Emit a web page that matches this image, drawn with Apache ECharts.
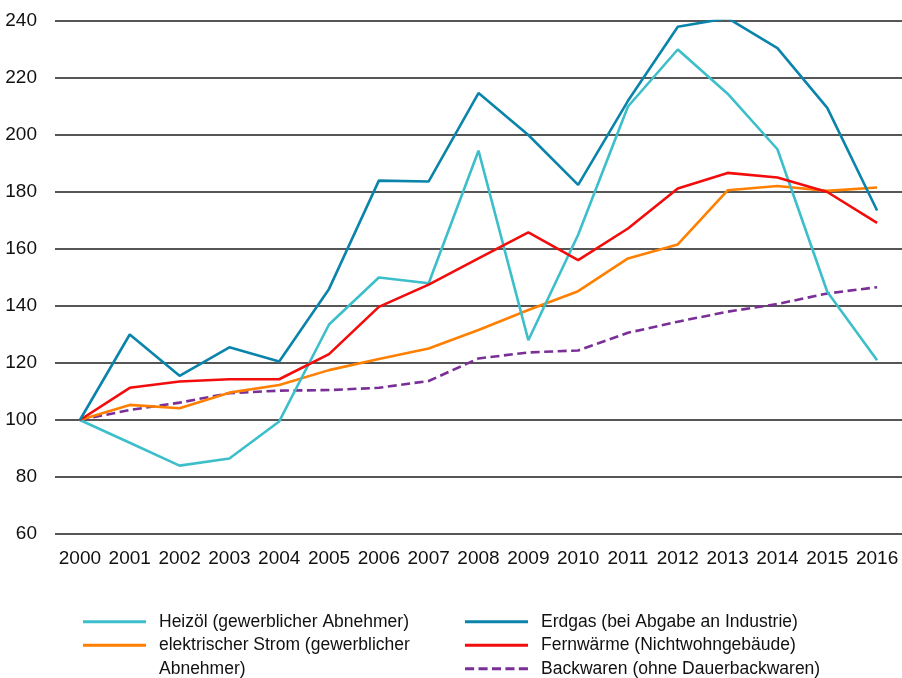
<!DOCTYPE html>
<html>
<head>
<meta charset="utf-8">
<script src="https://cdn.jsdelivr.net/npm/echarts@6/dist/echarts.min.js"></script>
<style>
    html, body { margin: 0; padding: 0; background: #fff; }
    #chart { width: 902px; height: 678px; }
</style>
</head>
<body>
<div id="chart"></div>
<script>
var years = ['2000', '2001', '2002', '2003', '2004', '2005', '2006', '2007', '2008',
    '2009', '2010', '2011', '2012', '2013', '2014', '2015', '2016'];
var yTicks = { min: 60, max: 240, step: 20 };

var heizoel = [100, 92, 84, 86.5, 99.5, 133.5, 150, 148, 194.5, 128, 165, 210, 230, 214.5, 195, 145, 121];
var erdgas = [100, 130, 115.5, 125.5, 120.5, 146, 184, 183.7, 214.7, 200, 182.5, 212, 238, 241, 230.5, 209.5, 173.5];
var strom = [100, 105.3, 104.1, 109.6, 112.3, 117.5, 121.4, 125.1, 131.6, 138.6, 145.2, 156.7, 161.6, 180.6, 182.1, 180.4, 181.6];
var fernwaerme = [100, 111.3, 113.5, 114.3, 114.3, 123.1, 139.7, 147.5, 156.7, 165.8, 156.1, 167.2, 181.2, 186.7, 185.1, 180, 169.2];
var backwaren = [100, 103.5, 106.1, 109.4, 110.3, 110.5, 111.3, 113.7, 121.6, 123.7, 124.4, 130.6, 134.5, 138, 140.7, 144.4, 146.6];

var names = {
    heizoel: 'Heizöl (gewerblicher Abnehmer)',
    strom: 'elektrischer Strom (gewerblicher Abnehmer)',
    erdgas: 'Erdgas (bei Abgabe an Industrie)',
    fernwaerme: 'Fernwärme (Nichtwohngebäude)',
    backwaren: 'Backwaren (ohne Dauerbackwaren)'
};
// the long legend entry wraps onto a second line
var stromLines = ['elektrischer Strom (gewerblicher', 'Abnehmer)'];

var font = "'Liberation Sans', Arial, sans-serif";

// dashed legend icon, 5 dashes over the icon width
var dashIcon = 'path://';
for (var i = 0; i < 5; i++) {
    dashIcon += 'M' + (i * 13.45) + ',0h9.1v3h-9.1z';
}

function lineSeries(name, data, color, dash) {
    return {
        name: name,
        type: 'line',
        data: data,
        symbol: 'none',
        silent: true,
        lineStyle: { color: color, width: 2.6, type: dash ? [9, 4.5] : 'solid' },
        itemStyle: { color: color }
    };
}

function legendBlock(left, items) {
    return {
        left: left,
        top: 605,
        height: 150,
        orient: 'vertical',
        itemWidth: 63,
        itemHeight: 3,
        itemGap: 0,
        selectedMode: false,
        data: items,
        formatter: function(name) {
            if (name == names.strom) {
                return stromLines[0];
            }
            return name;
        },
        textStyle: {
            fontFamily: font,
            fontSize: 17.5,
            color: '#111',
            lineHeight: 23.5,
            padding: [0, 0, 0, 8]
        }
    };
}

var chart = echarts.init(document.getElementById('chart'), null, { renderer: 'canvas' });
chart.setOption({
    animation: false,
    backgroundColor: '#fff',
    grid: { left: 55, right: 0, top: 21, bottom: 144 },
    xAxis: {
        type: 'category',
        data: years,
        boundaryGap: true,
        axisLine: { show: false },
        axisTick: { show: false },
        axisLabel: { margin: 15, fontFamily: font, fontSize: 19, color: '#111', interval: 0 }
    },
    yAxis: {
        type: 'value',
        min: yTicks.min,
        max: yTicks.max,
        interval: yTicks.step,
        axisLine: { show: false },
        axisTick: { show: false },
        axisLabel: { margin: 18, fontFamily: font, fontSize: 19, color: '#111' },
        splitLine: { lineStyle: { color: '#1e1e1e', width: 1.5 } }
    },
    legend: [
        legendBlock(78, [
            { name: names.heizoel, icon: 'rect' },
            { name: names.strom, icon: 'rect' }
        ]),
        legendBlock(460, [
            { name: names.erdgas, icon: 'rect' },
            { name: names.fernwaerme, icon: 'rect' },
            { name: names.backwaren, icon: dashIcon }
        ])
    ],
    graphic: [{
        type: 'text',
        left: 159,
        top: 657,
        silent: true,
        style: {
            text: stromLines[1],
            fontFamily: font,
            fontSize: 17.5,
            lineHeight: 23.5,
            fill: '#111'
        }
    }],
    series: [
        lineSeries(names.backwaren, backwaren, '#7a2f97', true),
        lineSeries(names.strom, strom, '#ff8000'),
        lineSeries(names.heizoel, heizoel, '#3cbfca'),
        lineSeries(names.fernwaerme, fernwaerme, '#f20c0c'),
        lineSeries(names.erdgas, erdgas, '#0a84aa')
    ]
});
</script>
</body>
</html>
